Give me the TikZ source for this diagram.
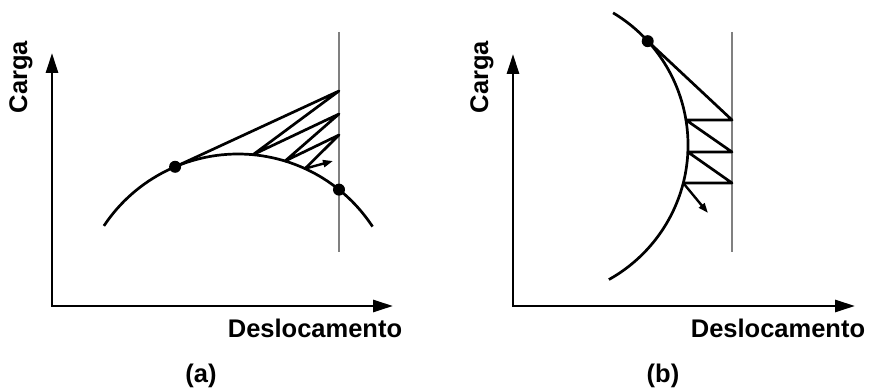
\documentclass[tikz,border=0pt]{standalone}
\usepackage{fontspec}
\setmainfont{Liberation Sans}
\usetikzlibrary{arrows.meta,calc}
\begin{document}
\begin{tikzpicture}[x=1pt,y=1pt,
  axes/.style={line width=2.9pt,{Triangle[length=20pt,width=12pt]}-{Triangle[length=20pt,width=12pt]}},
  curve/.style={line width=2.7pt},
  zig/.style={line width=2.7pt,line join=round},
  guide/.style={line width=1.2pt,draw=black!50},
  dot/.style={circle,fill=black,inner sep=0pt,minimum size=12pt},
  lbl/.style={font=\fontsize{25.5}{30}\selectfont\bfseries,inner sep=0pt},
  small/.style={line width=2.4pt,-{Triangle[length=10pt,width=7pt]}}]
\useasboundingbox (0,0) rectangle (872,390);

% ---------- panel (a) ----------
\coordinate (Oa) at (52,84);
\coordinate (Ya) at (52,337);
\coordinate (Xa) at (393,84);
\draw[axes] (Ya) -- (Oa) -- (Xa);
\node[lbl,rotate=90] (cargaA) at (21,313) {Carga};
\node[lbl,anchor=base] (deslA) at (315,52) {Deslocamento};
\node[lbl,anchor=base] (labA) at (201,7) {(a)};

\coordinate (ca) at (238,75);
\draw[curve] ($(ca)+(146.4:161)$) arc[start angle=146.4,end angle=33.3,radius=161];
\coordinate (gaTop) at (339,358);
\coordinate (gaBot) at (339,138);
\draw[guide] (gaTop) -- (gaBot);

\coordinate (a0) at ($(ca)+(113:161)$);
\coordinate (av1) at (339,299);
\coordinate (ac1) at ($(ca)+(84.65:161)$);
\coordinate (av2) at (339,276);
\coordinate (ac2) at ($(ca)+(73.0:161)$);
\coordinate (av3) at (339,255);
\coordinate (ac3) at ($(ca)+(65.4:161)$);
\coordinate (atip) at (333,229);
\draw[zig] (a0) -- (av1) -- (ac1) -- (av2) -- (ac2) -- (av3) -- (ac3);
\draw[small] (ac3) -- (atip);
\node[dot] (dA1) at (a0) {};
\node[dot] (dA2) at ($(ca)+(51.15:161)$) {};

% ---------- panel (b) ----------
\coordinate (Ob) at (513,84);
\coordinate (Yb) at (513,336);
\coordinate (Xb) at (855,84);
\draw[axes] (Yb) -- (Ob) -- (Xb);
\node[lbl,rotate=90] (cargaB) at (482,313) {Carga};
\node[lbl,anchor=base] (deslB) at (778,52) {Deslocamento};
\node[lbl,anchor=base] (labB) at (663,7) {(b)};

\coordinate (cb) at (534,245);
\draw[curve] ($(cb)+(59.1:154)$) arc[start angle=59.1,end angle=-60.9,radius=154];
\coordinate (gbTop) at (732,358);
\coordinate (gbBot) at (732,138);
\draw[guide] (gbTop) -- (gbBot);

\coordinate (b0) at ($(cb)+(42.4:154)$);
\coordinate (bv1) at (732,270);
\coordinate (bc1) at (686,270);
\coordinate (bv2) at (732,238);
\coordinate (bc2) at (687.8,238);
\coordinate (bv3) at (732,207);
\coordinate (bc3) at (683.2,207);
\coordinate (btip) at (708,177);
\draw[zig] (b0) -- (bv1) -- (bc1) -- (bv2) -- (bc2) -- (bv3) -- (bc3);
\draw[small] (bc3) -- (btip);
\node[dot] (dB1) at (b0) {};
\end{tikzpicture}
\end{document}
